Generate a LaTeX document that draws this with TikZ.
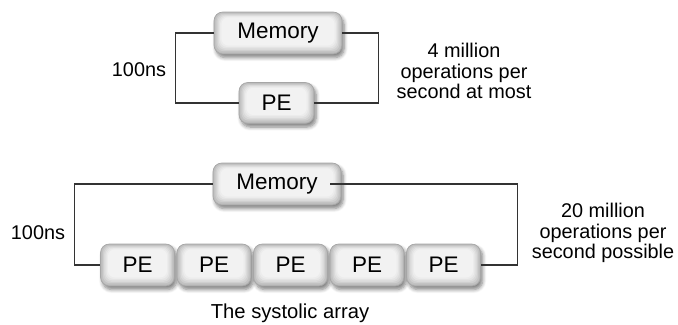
\documentclass[tikz,border=0pt]{standalone}
\usepackage{fontspec}
\setmainfont{Liberation Sans}
\usetikzlibrary{shadows.blur}

\begin{document}
\begin{tikzpicture}[x=0.02cm, y=-0.02cm]
		% Styles for the shaded boxes and the side notes
		\tikzset{
			unit/.style={draw=gray!70, fill=gray!55, rounded corners=5pt, inner sep=0pt,
				font=\fontsize{12.8}{15}\selectfont,
				blur shadow={shadow xshift=1.2pt, shadow yshift=-2pt, shadow blur steps=6, shadow opacity=50},
				path picture={
					\foreach \i/\c in {1/48,2/38,3/29,4/21,5/15,6/10}
						\fill[gray!\c, rounded corners=4pt] ([xshift=\i*0.7pt, yshift=\i*0.8pt]path picture bounding box.south west) rectangle ([xshift=-\i*0.7pt, yshift=-\i*0.5pt]path picture bounding box.north east);
				}},
			mem/.style={unit, minimum width=2.56cm, minimum height=0.84cm},
			pe/.style={unit, minimum width=1.5cm, minimum height=0.82cm},
			wire/.style={draw=black!80, line width=0.6pt},
			note/.style={align=center, font=\fontsize{11.3}{11.6}\selectfont}
		}
		\useasboundingbox (0,0) rectangle (678,324);
		
		% Single processing element
		\node[mem] (memA) at (278,33) {Memory};
		\node[pe] (peA) at (276.5,103) {PE};
		\draw[wire] (memA.west) -- ++(-38,0) |- (peA.west);
		\draw[wire] (memA.east) -- ++(36,0) |- (peA.east);
		\node[note] (timeA) at (139,70) {100ns};
		\node[note] (rateA) at (464,71) {4 million\\operations per\\second at most};
		
		% The systolic array
		\node[mem] (memB) at (277,184) {Memory};
		\foreach \n in {1,...,5}
			\node[pe, minimum width=1.48cm, minimum height=0.84cm] (cell\n) at ({137.5+76.5*(\n-1)},265) {PE};
		\draw[wire] (memB.west) -- ++(-138,0) |- (cell1.west);
		\draw[wire] ([xshift=-0.22cm]memB.east) -- ++(187,0) |- (cell5.east);
		\node[note] (timeB) at (38,233) {100ns};
		\node[note] (rateB) at (603,233) {20 million\\operations per\\second possible};
		\node[note, font=\fontsize{11.5}{13}\selectfont] (array) at (290,313) {The systolic array};
	\end{tikzpicture}
\end{document}
